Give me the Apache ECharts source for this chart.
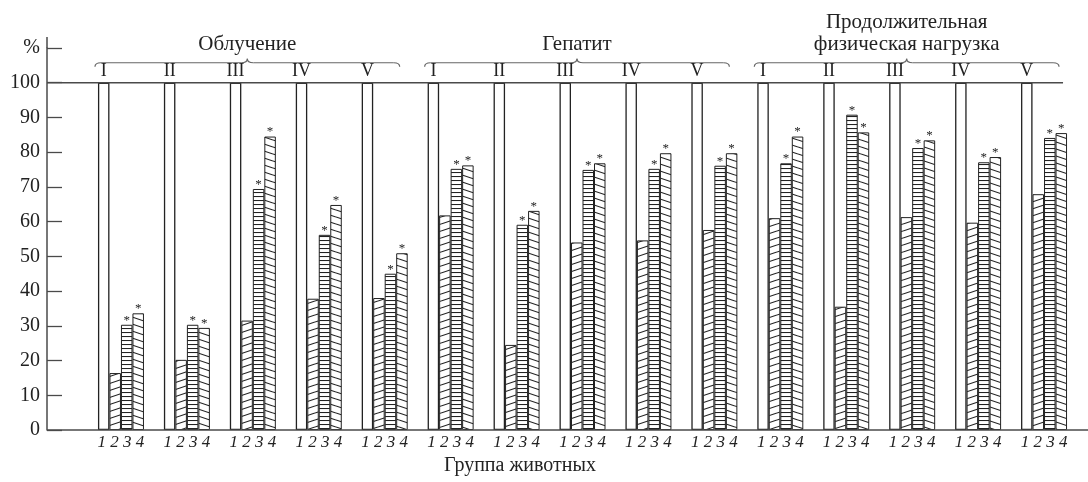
<!DOCTYPE html>
<html>
<head>
<meta charset="utf-8">
<script src="https://cdn.jsdelivr.net/npm/echarts@6/dist/echarts.min.js"></script>
<style>
  html, body { margin: 0; padding: 0; background: #fff; }
  #chart { width: 1088px; height: 482px; }
</style>
</head>
<body>
<div id="chart"></div>
<script>
const conditions = ['Облучение', 'Гепатит', 'Продолжительная\nфизическая нагрузка']
const groups = ['I', 'II', 'III', 'IV', 'V']
const barNumbers = ['1', '2', '3', '4']
const categories = conditions.flatMap(c => groups.map(g => c + ' ' + g))

// bar 1 = control (100 %), bars 2-4
const control = [100, 100, 100, 100, 100, 100, 100, 100, 100, 100, 100, 100, 100, 100, 100]
const group2 = [16.4, 20.2, 31.5, 37.8, 38, 61.8, 24.5, 54, 54.6, 57.6, 61, 35.5, 61.3, 59.7, 67.9]
const group3 = [30.3, 30.3, 69.4, 56.2, 45, 75.2, 59.1, 74.9, 75.2, 76.1, 76.8, 90.8, 81.2, 77.1, 84.1]
const group4 = [33.6, 29.4, 84.5, 64.8, 50.9, 76.2, 63.1, 76.8, 79.7, 79.7, 84.5, 85.7, 83.4, 78.6, 85.5]

const FONT = '"Liberation Serif", "Times New Roman", serif'
const INK = '#222'
const AXIS = '#4a4a4a'
const GRID_LEFT = 88
const Y_OFFSET = 41

// hatch fills drawn on small canvases
function hatch(kind) {
  const c = document.createElement('canvas')
  if (kind === 'flat') {
    c.width = 8; c.height = 4
  } else {
    c.width = 21; c.height = 7
  }
  const ctx = c.getContext('2d')
  const W = c.width, H = c.height
  ctx.fillStyle = '#fff'
  ctx.fillRect(0, 0, W, H)
  ctx.strokeStyle = INK
  ctx.lineWidth = 1.1
  ctx.beginPath()
  if (kind === 'flat') {
    ctx.moveTo(0, 0.5); ctx.lineTo(W, 0.5)
  } else {
    for (let k = -1; k <= 1; k++) {
      if (kind === 'down') { ctx.moveTo(0, k * H); ctx.lineTo(W, (k + 1) * H) }
      else { ctx.moveTo(0, (k + 1) * H); ctx.lineTo(W, k * H) }
    }
  }
  ctx.stroke()
  return { image: c, repeat: 'repeat' }
}

const starLabel = {
  show: true,
  position: 'top',
  distance: -2,
  formatter: '*',
  fontFamily: FONT,
  fontSize: 13,
  color: '#222'
}

const barBase = {
  type: 'bar',
  barWidth: 11.5,
  barGap: '0%',
  silent: true
}

const chart = echarts.init(document.getElementById('chart'))

chart.setOption({
  animation: false,
  backgroundColor: '#fff',
  grid: { left: GRID_LEFT, right: 11, top: 48, bottom: 52 },
  xAxis: {
    type: 'category',
    data: categories,
    axisLine: { show: false },
    axisTick: { show: false },
    axisLabel: {
      interval: 0,
      margin: 4,
      formatter: () => barNumbers.join(' '),
      fontFamily: FONT,
      fontStyle: 'italic',
      fontSize: 17,
      color: '#222'
    },
    name: 'Группа животных',
    nameLocation: 'middle',
    nameGap: 23,
    nameTextStyle: {
      fontFamily: FONT,
      fontSize: 20,
      color: '#222',
      padding: [0, 125, 0, 0]
    }
  },
  yAxis: {
    type: 'value',
    min: 0,
    max: 110,
    interval: 10,
    offset: Y_OFFSET,
    axisLine: { show: true, lineStyle: { color: AXIS, width: 1.5 } },
    axisTick: { show: true, inside: true, length: 15, lineStyle: { color: AXIS, width: 1.3 } },
    splitLine: { show: false },
    axisLabel: {
      margin: 7,
      formatter: v => (v === 110 ? '%' : v),
      fontFamily: FONT,
      fontSize: 20,
      color: '#222'
    }
  },
  series: [
    {
      ...barBase,
      name: barNumbers[0],
      data: control,
      itemStyle: { color: '#fff', borderColor: INK, borderWidth: 1.3 },
      label: {
        show: true,
        position: 'top',
        distance: 2,
        formatter: p => groups[p.dataIndex % groups.length],
        fontFamily: FONT,
        fontSize: 18,
        color: '#222'
      }
    },
    {
      ...barBase,
      name: barNumbers[1],
      data: group2,
      itemStyle: { color: hatch('up'), borderColor: INK, borderWidth: 1 }
    },
    {
      ...barBase,
      name: barNumbers[2],
      data: group3,
      itemStyle: { color: hatch('flat'), borderColor: INK, borderWidth: 1 },
      label: starLabel
    },
    {
      ...barBase,
      name: barNumbers[3],
      data: group4,
      itemStyle: { color: hatch('down'), borderColor: INK, borderWidth: 1 },
      label: starLabel
    }
  ]
})

// braces, condition titles and the long axis lines, placed through the axes
function drawAnnotations() {
  const px = i => chart.convertToPixel({ xAxisIndex: 0 }, i)
  const py = v => chart.convertToPixel({ yAxisIndex: 0 }, v)
  const axisX = GRID_LEFT - Y_OFFSET
  const y0 = py(0), y100 = py(100), yTop = py(110)
  const last = categories.length - 1
  const axisStyle = { stroke: AXIS, lineWidth: 1.5 }
  const braceStyle = { stroke: '#666', lineWidth: 1.2, fill: null }
  const elements = [
    { type: 'line', shape: { x1: axisX, y1: y0, x2: 1088, y2: y0 }, style: axisStyle, z: 10 },
    { type: 'line', shape: { x1: axisX, y1: y100, x2: px(last) + 19, y2: y100 }, style: axisStyle, z: 10 },
    { type: 'line', shape: { x1: axisX, y1: yTop, x2: axisX, y2: yTop - 11 }, style: axisStyle, z: 10 }
  ]
  const curve = (x1, y1, cx, cy, x2, y2) => ({
    type: 'bezierCurve',
    shape: { x1, y1, cpx1: cx, cpy1: cy, x2, y2 },
    style: braceStyle
  })
  const straight = (x1, x2, y) => ({ type: 'line', shape: { x1, y1: y, x2, y2: y }, style: braceStyle })
  conditions.forEach((name, c) => {
    const xa = px(c * groups.length) - 26
    const xb = px(c * groups.length + groups.length - 1) + 15
    const xm = (xa + xb) / 2
    const yb = y100 - 20
    elements.push(
      curve(xa, yb + 4, xa, yb, xa + 6, yb),
      straight(xa + 6, xm - 6, yb),
      curve(xm - 6, yb, xm, yb, xm, yb - 4),
      curve(xm, yb - 4, xm, yb, xm + 6, yb),
      straight(xm + 6, xb - 6, yb),
      curve(xb - 6, yb, xb, yb, xb, yb + 4)
    )
    elements.push({
      type: 'text',
      style: {
        text: name,
        x: xm,
        y: yb - 7,
        align: 'center',
        verticalAlign: 'bottom',
        font: '21px ' + FONT,
        lineHeight: 22,
        fill: '#222'
      }
    })
  })
  chart.setOption({ graphic: elements })
}

drawAnnotations()
</script>
</body>
</html>
